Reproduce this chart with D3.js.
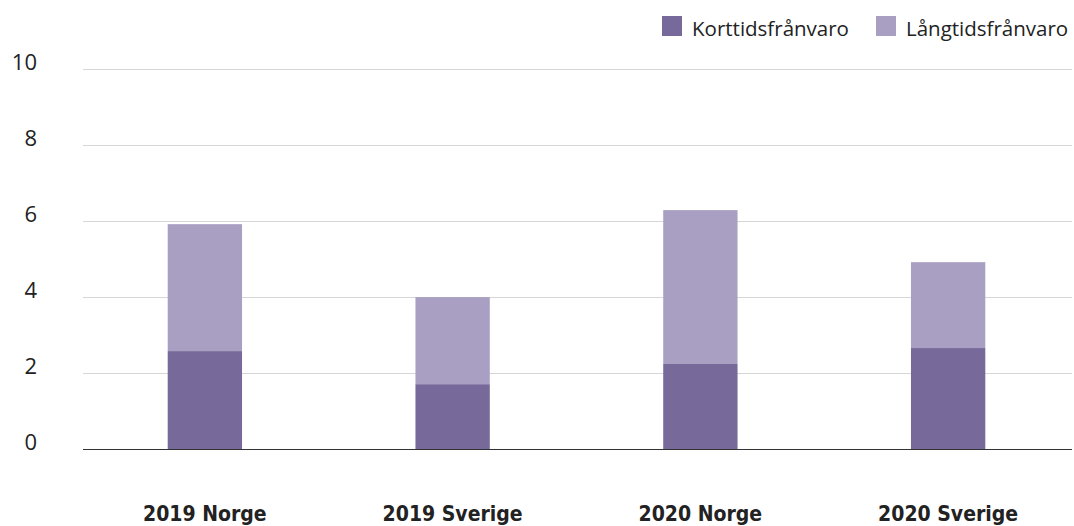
<!DOCTYPE html>
<html><head><meta charset="utf-8">
<script src="https://cdn.jsdelivr.net/npm/d3@7"></script>
<style>body{margin:0;background:#fff}svg{display:block}</style>
</head><body>
<svg id="c" width="1074" height="526"></svg>
<script>
const categories = ["2019 Norge", "2019 Sverige", "2020 Norge", "2020 Sverige"];
const seriesNames = ["Korttidsfrånvaro", "Långtidsfrånvaro"];
const kort = [2.59, 1.72, 2.25, 2.67];
const lang = [3.34, 2.29, 4.05, 2.26];
const yTicks = [0, 2, 4, 6, 8, 10];
const colors = ["#776a9a", "#a99fc3"];

const svg = d3.select("#c");
const x = d3.scaleBand().domain(categories).range([81, 1072]).paddingInner(0.7).paddingOuter(0.35);
const y = d3.scaleLinear().domain([0, 10]).range([449.5, 69.5]);

// gridlines
svg.append("g").selectAll("line").data(yTicks.filter(d => d > 0)).join("line")
  .attr("x1", 83).attr("x2", 1072).attr("y1", d => y(d)).attr("y2", d => y(d))
  .attr("stroke", "#d6d6d6").attr("stroke-width", 1);

// y labels
svg.append("g").selectAll("text").data(yTicks).join("text")
  .attr("x", 37).attr("y", d => y(d) + 0.5).attr("text-anchor", "end")
  .attr("font-family", "'Open Sans', sans-serif").attr("font-size", 22).attr("fill", "#222")
  .text(d => d);

// stacked data
const rows = categories.map((c, i) => ({cat: c, k: kort[i], l: lang[i]}));
const stack = d3.stack().keys(["k", "l"])(rows);
svg.append("g").selectAll("g").data(stack).join("g").attr("fill", (d, i) => colors[i])
  .selectAll("rect").data(d => d).join("rect")
  .attr("x", d => x(d.data.cat)).attr("width", x.bandwidth())
  .attr("y", d => y(d[1])).attr("height", d => y(d[0]) - y(d[1]));

// zero axis
svg.append("line").attr("x1", 83).attr("x2", 1072).attr("y1", y(0)).attr("y2", y(0))
  .attr("stroke", "#333").attr("stroke-width", 1.2);

// x labels
svg.append("g").selectAll("text").data(categories).join("text")
  .attr("x", d => x(d) + x.bandwidth() / 2).attr("y", 521).attr("text-anchor", "middle")
  .attr("font-family", "'Liberation Sans Narrow', 'DejaVu Sans Condensed', sans-serif")
  .attr("font-weight", "bold").attr("font-size", 21).attr("fill", "#222")
  .text(d => d);

// legend
const legX = [662, 876];
const lg = svg.append("g").selectAll("g").data(seriesNames).join("g")
  .attr("transform", (d, i) => `translate(${legX[i]},16)`);
lg.append("rect").attr("width", 20).attr("height", 20).attr("fill", (d, i) => colors[i]);
lg.append("text").attr("x", 30).attr("y", 20)
  .attr("font-family", "'Open Sans', sans-serif").attr("font-size", 20.5).attr("fill", "#222")
  .text(d => d);
</script>
</body></html>
